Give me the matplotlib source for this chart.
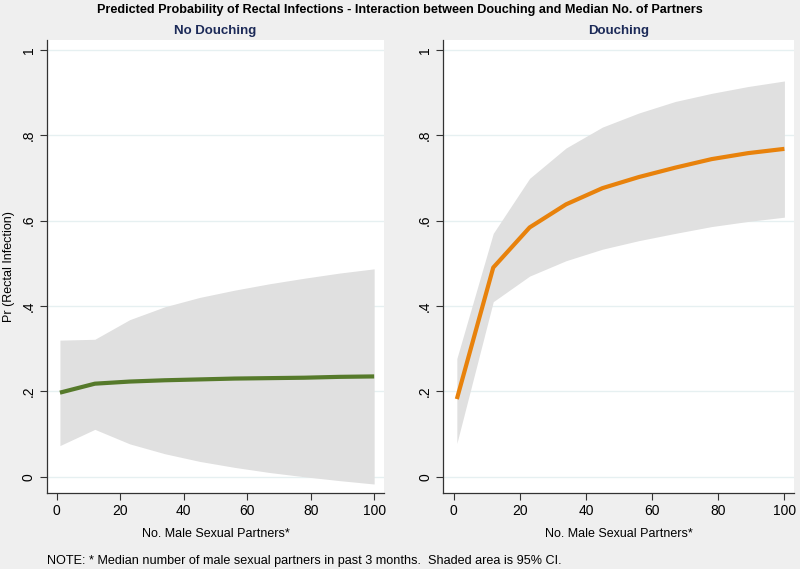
import matplotlib
matplotlib.use("Agg")
import matplotlib.pyplot as plt

# partners (median no. of male partners) at which predictions were made
partners = [1, 12, 23, 34, 45, 56, 67, 78, 89, 100]

# No douching: predicted probability and 95% CI
nd_pred = [0.197, 0.218, 0.223, 0.226, 0.228, 0.230, 0.231, 0.232, 0.234, 0.235]
nd_lo = [0.073, 0.111, 0.077, 0.054, 0.036, 0.022, 0.010, 0.000, -0.009, -0.017]
nd_hi = [0.320, 0.322, 0.368, 0.398, 0.420, 0.437, 0.452, 0.465, 0.477, 0.487]

# Douching
d_pred = [0.182, 0.490, 0.584, 0.638, 0.676, 0.702, 0.724, 0.744, 0.758, 0.768]
d_lo = [0.078, 0.410, 0.470, 0.506, 0.533, 0.553, 0.570, 0.586, 0.598, 0.608]
d_hi = [0.277, 0.570, 0.699, 0.770, 0.819, 0.852, 0.879, 0.898, 0.914, 0.927]

yticks = [0, 0.2, 0.4, 0.6, 0.8, 1.0]
ytick_labels = ["0", ".2", ".4", ".6", ".8", "1"]
xticks = [0, 20, 40, 60, 80, 100]

plt.rcParams["font.family"] = ["Liberation Sans", "DejaVu Sans"]

BG = "#efefef"
BAND = "#e0e0e0"
GRID = "#e6f0f1"
NAVY = "#1c2a58"

fig = plt.figure(figsize=(8, 5.69), dpi=100, facecolor=BG)
ax1 = fig.add_axes([0.0588, 0.1336, 0.4212, 0.7961])
ax2 = fig.add_axes([0.5541, 0.1336, 0.4384, 0.7961])

panels = [
    (ax1, "No Douching", nd_pred, nd_lo, nd_hi, "#567a2b"),
    (ax2, "Douching", d_pred, d_lo, d_hi, "#e8820c"),
]

for ax, title, pred, lo, hi, col in panels:
    ax.set_facecolor("white")
    ax.fill_between(partners, lo, hi, color=BAND, linewidth=0, zorder=1)
    ax.plot(partners, pred, color=col, linewidth=3, zorder=3, solid_capstyle="butt")
    ax.set_yticks(yticks)
    ax.set_yticklabels(ytick_labels, rotation=90, va="center")
    ax.set_xticks(xticks)
    ax.set_ylim(-0.038, 1.023)
    ax.grid(axis="y", color=GRID, linewidth=1, zorder=0)
    ax.set_axisbelow(True)
    for s in ["top", "right"]:
        ax.spines[s].set_visible(False)
    for s in ["left", "bottom"]:
        ax.spines[s].set_color("#333333")
        ax.spines[s].set_linewidth(0.9)
    ax.tick_params(direction="out", length=5, width=0.8, color="#333333",
                   labelsize=10, pad=3)
    ax.set_xlabel("No. Male Sexual Partners*", fontsize=9, labelpad=7)
    ax.set_title(title, fontsize=9.5, fontweight="bold", color=NAVY, pad=4)

ax1.set_xlim(-3.06, 103.1)
ax2.set_xlim(-3.1, 102.9)
ax1.set_ylabel("Pr (Rectal Infection)", fontsize=9, labelpad=5)

fig.text(0.5, 0.993, "Predicted Probability of Rectal Infections - Interaction between Douching and Median No. of Partners",
         ha="center", va="top", fontsize=9.1, fontweight="bold")
fig.text(0.0588, 0.004, "NOTE: * Median number of male sexual partners in past 3 months.  Shaded area is 95% CI.",
         ha="left", va="bottom", fontsize=9.1)

fig.savefig("out.png", dpi=100, facecolor=BG)
